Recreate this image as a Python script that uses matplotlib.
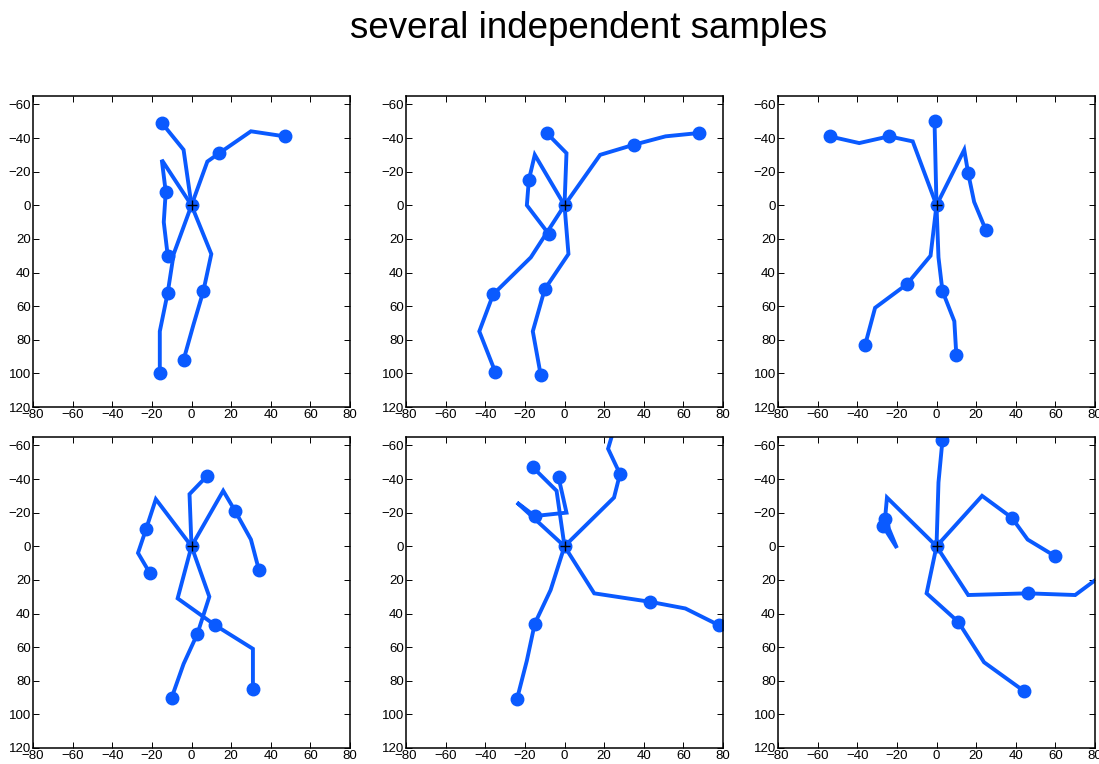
import matplotlib
matplotlib.use('Agg')
import matplotlib.pyplot as plt

# each sample: list of limbs, each limb = (xs, ys, marker indices)
sample1 = [
    ([0, -4, -15], [0, -33, -49], [2]),
    ([0, 8, 14, 30, 47], [0, -26, -31, -44, -41], [2, 4]),
    ([0, -15, -13, -14, -12], [0, -27, -8, 10, 30], [2, 4]),
    ([0, -9, -12, -16, -16], [0, 29, 52, 75, 100], [2, 4]),
    ([0, 10, 6, 1, -4], [0, 29, 51, 71, 92], [2, 4]),
]
sample2 = [
    ([0, 1, -9], [0, -31, -43], [2]),
    ([0, 18, 35, 51, 68], [0, -30, -36, -41, -43], [2, 4]),
    ([0, -15, -18, -19, -8], [0, -30, -15, 0, 17], [2, 4]),
    ([0, -17, -36, -43, -35], [0, 31, 53, 75, 99], [2, 4]),
    ([0, 2, -10, -16, -12], [0, 29, 50, 75, 101], [2, 4]),
]
sample3 = [
    ([0, -1], [0, -50], [1]),
    ([0, -12, -24, -39, -54], [0, -38, -41, -37, -41], [2, 4]),
    ([0, 14, 16, 19, 25], [0, -33, -19, -2, 15], [2, 4]),
    ([0, -3, -15, -31, -36], [0, 30, 47, 61, 83], [2, 4]),
    ([0, 1, 3, 9, 10], [0, 31, 51, 69, 89], [2, 4]),
]
sample4 = [
    ([0, -1, 8], [0, -31, -42], [2]),
    ([0, 16, 22, 30, 34], [0, -33, -21, -4, 14], [2, 4]),
    ([0, -18, -23, -27, -21], [0, -28, -10, 4, 16], [2, 4]),
    ([0, -7, 12, 31, 31], [0, 31, 47, 61, 85], [2, 4]),
    ([0, 9, 3, -4, -10], [0, 30, 52, 70, 90], [2, 4]),
]
sample5 = [
    ([0, -4, -16], [0, -33, -47], [2]),
    ([0, -24, -15, 1, -3], [0, -26, -18, -20, -41], [2, 4]),
    ([0, 25, 28, 22, 26], [0, -29, -43, -58, -74], [2, 4]),
    ([0, 15, 43, 61, 78], [0, 28, 33, 37, 47], [2, 4]),
    ([0, -7, -15, -19, -24], [0, 26, 46, 68, 91], [2, 4]),
]
sample6 = [
    ([0, 1, 3], [0, -38, -63], [2]),
    ([0, -25, -26, -20, -27], [0, -29, -16, 1, -12], [2, 4]),
    ([0, 23, 38, 46, 60], [0, -30, -17, -4, 6], [2, 4]),
    ([0, 16, 46, 70, 86], [0, 29, 28, 29, 15], [2, 4]),
    ([0, -5, 11, 24, 44], [0, 28, 45, 69, 86], [2, 4]),
]
samples = [sample1, sample2, sample3, sample4, sample5, sample6]

xticks = list(range(-80, 81, 20))
yticks = list(range(-60, 121, 20))

blue = '#0a5aff'
plt.rcParams['font.family'] = ['Liberation Sans', 'DejaVu Sans']

fig = plt.figure(figsize=(10.99, 7.64), dpi=100)
W, H = 1099, 764
lefts = [33, 406, 778]
tops = [96, 437]
aw, ah = 317, 311

for k, sample in enumerate(samples):
    r, c = divmod(k, 3)
    ax = fig.add_axes([lefts[c] / W, 1 - (tops[r] + ah) / H, aw / W, ah / H])
    for xs, ys, mk in sample:
        ax.plot(xs, ys, color=blue, lw=2.8, solid_joinstyle='miter',
                marker='o', markevery=mk, ms=9, mec=blue, mfc=blue)
    ax.plot([0], [0], 'o', color=blue, ms=9)
    ax.plot([0], [0], '+', color='black', ms=7, mew=1.0)
    ax.set_xlim(-80, 80)
    ax.set_ylim(120, -65)
    ax.set_xticks(xticks)
    ax.set_yticks(yticks)
    ax.set_xticklabels([str(v).replace('-', '\u2212') for v in xticks])
    ax.set_yticklabels([str(v).replace('-', '\u2212') for v in yticks])
    ax.tick_params(direction='in', top=True, right=True, labelsize=9.5,
                   length=4, width=0.7, pad=1.5)
    for s in ax.spines.values():
        s.set_linewidth(1.1)

fig.text(589 / W, 1 - 28 / H, 'several independent samples', ha='center', va='center', fontsize=26.5)
fig.savefig('out.png', dpi=100)
